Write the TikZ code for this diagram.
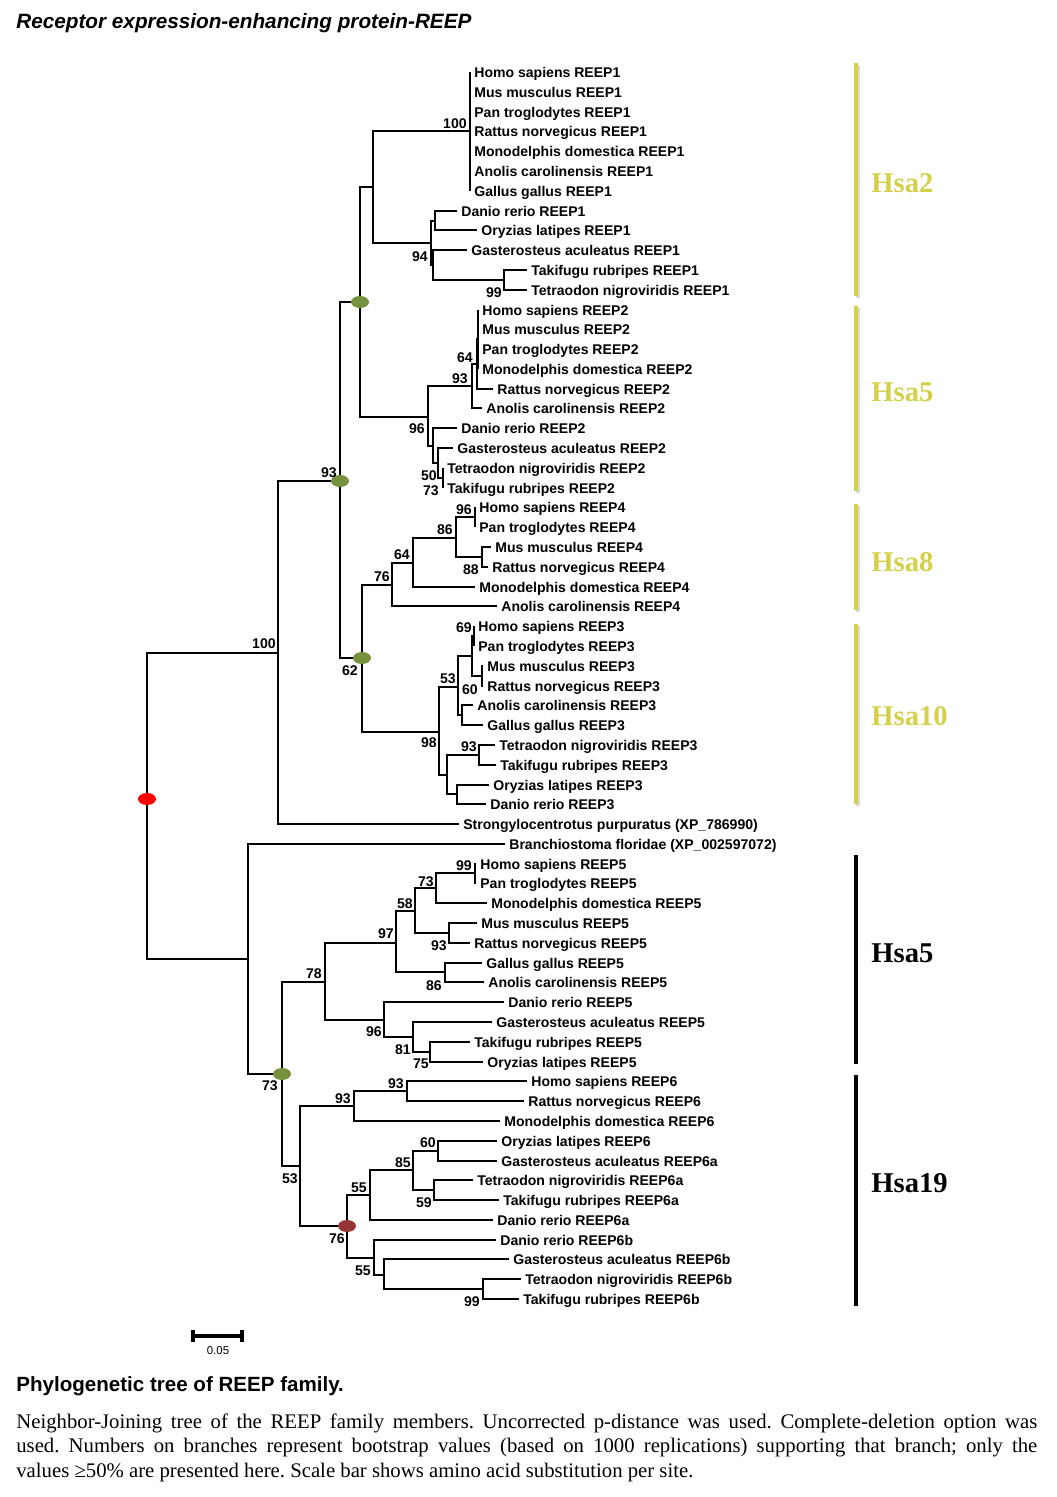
\documentclass[tikz,border=0pt]{standalone}
\usepackage{fontspec}
\setmainfont{Liberation Serif}
\newfontfamily\arialfont{Liberation Sans}
\usepackage{tikz}
\usetikzlibrary{shapes.geometric}
\frenchspacing

\definecolor{hsayellow}{RGB}{212,208,74}
\definecolor{nodegreen}{RGB}{118,146,60}
\definecolor{nodebrown}{RGB}{149,55,53}

\tikzset{
  branch/.style={line width=1.15pt},
  leaf/.style={anchor=west, inner xsep=0.8mm, inner ysep=0pt, text height=5.8pt, text depth=0pt,
    font=\arialfont\bfseries\fontsize{8}{9}\selectfont},
  boot/.style={anchor=east, inner sep=0pt, text height=5.8pt, text depth=0pt,
    font=\arialfont\bfseries\fontsize{8}{9}\selectfont},
  dupdot/.style={ellipse, fill=#1, inner sep=0pt, minimum width=3.6mm, minimum height=2.4mm},
  chrom/.style={anchor=west, inner sep=0pt, font=\bfseries\fontsize{16.3}{18}\selectfont},
  chrombar/.style={line width=2.3pt},
}

\begin{document}
\begin{tikzpicture}[x=0.2mm, y=-0.2mm]
\useasboundingbox (0,0) rectangle (1056,1497);

% Title
\node[anchor=base west, inner sep=0pt, font=\arialfont\bfseries\itshape\fontsize{11.8}{14}\selectfont]
  (title) at (16,28) {Receptor expression-enhancing protein-REEP};

% Leaves
\node[leaf] (hs1) at (470,72) {Homo sapiens REEP1};
\node[leaf] (mm1) at (470,92) {Mus musculus REEP1};
\node[leaf] (pt1) at (470,112) {Pan troglodytes REEP1};
\node[leaf] (rn1) at (470,131) {Rattus norvegicus REEP1};
\node[leaf] (md1) at (470,151) {Monodelphis domestica REEP1};
\node[leaf] (ac1) at (470,171) {Anolis carolinensis REEP1};
\node[leaf] (gg1) at (470,191) {Gallus gallus REEP1};
\node[leaf] (dr1) at (457,211) {Danio rerio REEP1};
\node[leaf] (ol1) at (477,230) {Oryzias latipes REEP1};
\node[leaf] (ga1) at (467,250) {Gasterosteus aculeatus REEP1};
\node[leaf] (tr1) at (527,270) {Takifugu rubripes REEP1};
\node[leaf] (tn1) at (527,290) {Tetraodon nigroviridis REEP1};
\node[leaf] (hs2) at (478,310) {Homo sapiens REEP2};
\node[leaf] (mm2) at (478,329) {Mus musculus REEP2};
\node[leaf] (pt2) at (478,349) {Pan troglodytes REEP2};
\node[leaf] (md2) at (478,369) {Monodelphis domestica REEP2};
\node[leaf] (rn2) at (493,389) {Rattus norvegicus REEP2};
\node[leaf] (ac2) at (482,408) {Anolis carolinensis REEP2};
\node[leaf] (dr2) at (457,428) {Danio rerio REEP2};
\node[leaf] (ga2) at (453,448) {Gasterosteus aculeatus REEP2};
\node[leaf] (tn2) at (443,468) {Tetraodon nigroviridis REEP2};
\node[leaf] (tr2) at (443,488) {Takifugu rubripes REEP2};
\node[leaf] (hs4) at (475,507) {Homo sapiens REEP4};
\node[leaf] (pt4) at (475,527) {Pan troglodytes REEP4};
\node[leaf] (mm4) at (491,547) {Mus musculus REEP4};
\node[leaf] (rn4) at (488,567) {Rattus norvegicus REEP4};
\node[leaf] (md4) at (475,587) {Monodelphis domestica REEP4};
\node[leaf] (ac4) at (497,606) {Anolis carolinensis REEP4};
\node[leaf] (hs3) at (474,626) {Homo sapiens REEP3};
\node[leaf] (pt3) at (474,646) {Pan troglodytes REEP3};
\node[leaf] (mm3) at (483,666) {Mus musculus REEP3};
\node[leaf] (rn3) at (483,686) {Rattus norvegicus REEP3};
\node[leaf] (ac3) at (473,705) {Anolis carolinensis REEP3};
\node[leaf] (gg3) at (483,725) {Gallus gallus REEP3};
\node[leaf] (tn3) at (495,745) {Tetraodon nigroviridis REEP3};
\node[leaf] (tr3) at (496,765) {Takifugu rubripes REEP3};
\node[leaf] (ol3) at (489,785) {Oryzias latipes REEP3};
\node[leaf] (dr3) at (486,804) {Danio rerio REEP3};
\node[leaf] (spu) at (459,824) {Strongylocentrotus purpuratus (XP\_786990)};
\node[leaf] (bfl) at (505,844) {Branchiostoma floridae (XP\_002597072)};
\node[leaf] (hs5) at (476,864) {Homo sapiens REEP5};
\node[leaf] (pt5) at (476,883) {Pan troglodytes REEP5};
\node[leaf] (md5) at (487,903) {Monodelphis domestica REEP5};
\node[leaf] (mm5) at (477,923) {Mus musculus REEP5};
\node[leaf] (rn5) at (470,943) {Rattus norvegicus REEP5};
\node[leaf] (gg5) at (482,963) {Gallus gallus REEP5};
\node[leaf] (ac5) at (484,982) {Anolis carolinensis REEP5};
\node[leaf] (dr5) at (504,1002) {Danio rerio REEP5};
\node[leaf] (ga5) at (492,1022) {Gasterosteus aculeatus REEP5};
\node[leaf] (tr5) at (470,1042) {Takifugu rubripes REEP5};
\node[leaf] (ol5) at (483,1062) {Oryzias latipes REEP5};
\node[leaf] (hs6) at (527,1081) {Homo sapiens REEP6};
\node[leaf] (rn6) at (524,1101) {Rattus norvegicus REEP6};
\node[leaf] (md6) at (500,1121) {Monodelphis domestica REEP6};
\node[leaf] (ol6) at (497,1141) {Oryzias latipes REEP6};
\node[leaf] (ga6a) at (497,1161) {Gasterosteus aculeatus REEP6a};
\node[leaf] (tn6a) at (473,1180) {Tetraodon nigroviridis REEP6a};
\node[leaf] (tr6a) at (499,1200) {Takifugu rubripes REEP6a};
\node[leaf] (dr6a) at (493,1220) {Danio rerio REEP6a};
\node[leaf] (dr6b) at (496,1240) {Danio rerio REEP6b};
\node[leaf] (ga6b) at (509,1259) {Gasterosteus aculeatus REEP6b};
\node[leaf] (tn6b) at (521,1279) {Tetraodon nigroviridis REEP6b};
\node[leaf] (tr6b) at (519,1299) {Takifugu rubripes REEP6b};

% Internal nodes
\coordinate (root) at (147,799);
\coordinate (c100) at (278,653);
\coordinate (g2) at (340,481);
\coordinate (g1) at (360,302);
\coordinate (p1) at (373,187);
\coordinate (poly1) at (470,131);
\coordinate (f1) at (431,243);
\coordinate (do1) at (435,221);
\coordinate (gt1) at (433,265);
\coordinate (tt1) at (504,280);
\coordinate (n96b) at (428,417);
\coordinate (n93b) at (472,386);
\coordinate (n64b) at (477,364);
\coordinate (poly2) at (478,339);
\coordinate (fs2) at (433,446);
\coordinate (n50) at (438,463);
\coordinate (n73b) at (443,478);
\coordinate (g3) at (362,658);
\coordinate (n76d) at (392,585);
\coordinate (n64d) at (413,563);
\coordinate (n86d) at (456,538);
\coordinate (n96d) at (475,517);
\coordinate (n88d) at (482,557);
\coordinate (n98c) at (439,732);
\coordinate (n53c) at (458,687);
\coordinate (mx3) at (472,656);
\coordinate (n69c) at (474,636);
\coordinate (n60c) at (482,676);
\coordinate (ag3) at (462,715);
\coordinate (fs3) at (447,775);
\coordinate (n93c) at (479,755);
\coordinate (od3) at (457,794);
\coordinate (nl) at (248,959);
\coordinate (g4) at (282,1074);
\coordinate (n78) at (325,982);
\coordinate (n97) at (396,943);
\coordinate (n58) at (415,911);
\coordinate (n73e) at (436,888);
\coordinate (n99e) at (475,873);
\coordinate (n93e) at (449,933);
\coordinate (n86e) at (445,972);
\coordinate (n96e) at (384,1020);
\coordinate (n81) at (413,1037);
\coordinate (n75) at (430,1052);
\coordinate (n53f) at (300,1166);
\coordinate (n93f) at (354,1106);
\coordinate (n93g) at (407,1091);
\coordinate (n76f) at (347,1226);
\coordinate (n55a) at (370,1195);
\coordinate (n85) at (413,1170);
\coordinate (n60f) at (438,1151);
\coordinate (n59f) at (434,1190);
\coordinate (n55b) at (374,1258);
\coordinate (ng6) at (384,1275);
\coordinate (n99f) at (483,1289);

% Branches, upper part
\draw[branch] (root) |- (c100) (root) |- (nl);
\draw[branch] (c100) |- (g2) (c100) |- (spu.west);
\draw[branch] (g2) |- (g1) (g2) |- (g3);
\draw[branch] (g1) |- (p1) (g1) |- (n96b);
\draw[branch] (p1) |- (poly1) (p1) |- (f1);
\draw[branch] (poly1) |- (hs1.west) (poly1) |- (mm1.west) (poly1) |- (pt1.west)
  (poly1) |- (rn1.west) (poly1) |- (md1.west) (poly1) |- (ac1.west) (poly1) |- (gg1.west);
\draw[branch] (f1) |- (do1) (f1) |- (gt1);
\draw[branch] (do1) |- (dr1.west) (do1) |- (ol1.west);
\draw[branch] (gt1) |- (ga1.west) (gt1) |- (tt1);
\draw[branch] (tt1) |- (tr1.west) (tt1) |- (tn1.west);
\draw[branch] (n96b) |- (n93b) (n96b) |- (fs2);
\draw[branch] (n93b) |- (n64b) (n93b) |- (ac2.west);
\draw[branch] (n64b) |- (poly2) (n64b) |- (rn2.west);
\draw[branch] (poly2) |- (hs2.west) (poly2) |- (mm2.west) (poly2) |- (pt2.west) (poly2) |- (md2.west);
\draw[branch] (fs2) |- (dr2.west) (fs2) |- (n50);
\draw[branch] (n50) |- (ga2.west) (n50) |- (n73b);
\draw[branch] (n73b) |- (tn2.west) (n73b) |- (tr2.west);
\draw[branch] (g3) |- (n76d) (g3) |- (n98c);
\draw[branch] (n76d) |- (n64d) (n76d) |- (ac4.west);
\draw[branch] (n64d) |- (n86d) (n64d) |- (md4.west);
\draw[branch] (n86d) |- (n96d) (n86d) |- (n88d);
\draw[branch] (n96d) |- (hs4.west) (n96d) |- (pt4.west);
\draw[branch] (n88d) |- (mm4.west) (n88d) |- (rn4.west);
\draw[branch] (n98c) |- (n53c) (n98c) |- (fs3);
\draw[branch] (n53c) |- (mx3) (n53c) |- (ag3);
\draw[branch] (mx3) |- (n69c) (mx3) |- (n60c);
\draw[branch] (n69c) |- (hs3.west) (n69c) |- (pt3.west);
\draw[branch] (n60c) |- (mm3.west) (n60c) |- (rn3.west);
\draw[branch] (ag3) |- (ac3.west) (ag3) |- (gg3.west);
\draw[branch] (fs3) |- (n93c) (fs3) |- (od3);
\draw[branch] (n93c) |- (tn3.west) (n93c) |- (tr3.west);
\draw[branch] (od3) |- (ol3.west) (od3) |- (dr3.west);

% Branches, lower part
\draw[branch] (nl) |- (bfl.west) (nl) |- (g4);
\draw[branch] (g4) |- (n78) (g4) |- (n53f);
\draw[branch] (n78) |- (n97) (n78) |- (n96e);
\draw[branch] (n97) |- (n58) (n97) |- (n86e);
\draw[branch] (n58) |- (n73e) (n58) |- (n93e);
\draw[branch] (n73e) |- (n99e) (n73e) |- (md5.west);
\draw[branch] (n99e) |- (hs5.west) (n99e) |- (pt5.west);
\draw[branch] (n93e) |- (mm5.west) (n93e) |- (rn5.west);
\draw[branch] (n86e) |- (gg5.west) (n86e) |- (ac5.west);
\draw[branch] (n96e) |- (dr5.west) (n96e) |- (n81);
\draw[branch] (n81) |- (ga5.west) (n81) |- (n75);
\draw[branch] (n75) |- (tr5.west) (n75) |- (ol5.west);
\draw[branch] (n53f) |- (n93f) (n53f) |- (n76f);
\draw[branch] (n93f) |- (n93g) (n93f) |- (md6.west);
\draw[branch] (n93g) |- (hs6.west) (n93g) |- (rn6.west);
\draw[branch] (n76f) |- (n55a) (n76f) |- (n55b);
\draw[branch] (n55a) |- (n85) (n55a) |- (dr6a.west);
\draw[branch] (n85) |- (n60f) (n85) |- (n59f);
\draw[branch] (n60f) |- (ol6.west) (n60f) |- (ga6a.west);
\draw[branch] (n59f) |- (tn6a.west) (n59f) |- (tr6a.west);
\draw[branch] (n55b) |- (dr6b.west) (n55b) |- (ng6);
\draw[branch] (ng6) |- (ga6b.west) (ng6) |- (n99f);
\draw[branch] (n99f) |- (tn6b.west) (n99f) |- (tr6b.west);

% Duplication dots
\node[dupdot=red] (rootdot) at (root) {};
\node[dupdot=nodegreen] (g1dot) at (g1) {};
\node[dupdot=nodegreen] (g2dot) at (g2) {};
\node[dupdot=nodegreen] (g3dot) at (g3) {};
\node[dupdot=nodegreen] (g4dot) at (g4) {};
\node[dupdot=nodebrown] (n76fdot) at (n76f) {};

% Bootstrap values
\node[boot] (bpoly1) at (467,123) {100};
\node[boot] (bf1) at (428,256) {94};
\node[boot] (btt1) at (502,292) {99};
\node[boot] (bn64b) at (473,357) {64};
\node[boot] (bn93b) at (468,378) {93};
\node[boot] (bn96b) at (425,428) {96};
\node[boot] (bn50) at (437,475) {50};
\node[boot] (bn73b) at (439,490) {73};
\node[boot] (bg2) at (337,472) {93};
\node[boot] (bc100) at (276,643) {100};
\node[boot] (bg3) at (358,670) {62};
\node[boot] (bn76d) at (390,576) {76};
\node[boot] (bn64d) at (410,554) {64};
\node[boot] (bn86d) at (453,529) {86};
\node[boot] (bn96d) at (472,509) {96};
\node[boot] (bn88d) at (479,569) {88};
\node[boot] (bn69c) at (472,627) {69};
\node[boot] (bn53c) at (456,678) {53};
\node[boot] (bn60c) at (478,689) {60};
\node[boot] (bn98c) at (437,742) {98};
\node[boot] (bn93c) at (477,746) {93};
\node[boot] (bg4) at (278,1085) {73};
\node[boot] (bn78) at (322,973) {78};
\node[boot] (bn97) at (394,933) {97};
\node[boot] (bn58) at (413,903) {58};
\node[boot] (bn73e) at (434,881) {73};
\node[boot] (bn99e) at (472,865) {99};
\node[boot] (bn93e) at (447,945) {93};
\node[boot] (bn86e) at (442,985) {86};
\node[boot] (bn96e) at (382,1031) {96};
\node[boot] (bn81) at (411,1049) {81};
\node[boot] (bn75) at (429,1063) {75};
\node[boot] (bn93f) at (351,1098) {93};
\node[boot] (bn93g) at (404,1083) {93};
\node[boot] (bn53f) at (298,1178) {53};
\node[boot] (bn76f) at (345,1238) {76};
\node[boot] (bn55a) at (367,1187) {55};
\node[boot] (bn85) at (411,1162) {85};
\node[boot] (bn60f) at (436,1142) {60};
\node[boot] (bn59f) at (432,1202) {59};
\node[boot] (bn55b) at (371,1270) {55};
\node[boot] (bn99f) at (480,1301) {99};

% Chromosome bars
\draw[chrombar, gray!30] (858,65) -- (858,298);
\draw[chrombar, gray!30] (858,308) -- (858,493);
\draw[chrombar, gray!30] (858,506) -- (858,612);
\draw[chrombar, gray!30] (858,626) -- (858,806);
\draw[chrombar, hsayellow] (856,63) -- (856,296);
\draw[chrombar, hsayellow] (856,306) -- (856,491);
\draw[chrombar, hsayellow] (856,504) -- (856,610);
\draw[chrombar, hsayellow] (856,624) -- (856,804);
\draw[chrombar, black] (856,855) -- (856,1064);
\draw[chrombar, black] (856,1075) -- (856,1306);
\node[chrom, text=hsayellow] (hsa2) at (871,183) {Hsa2};
\node[chrom, text=hsayellow] (hsa5a) at (871,392) {Hsa5};
\node[chrom, text=hsayellow] (hsa8) at (871,562) {Hsa8};
\node[chrom, text=hsayellow] (hsa10) at (871,716) {Hsa10};
\node[chrom] (hsa5b) at (871,953) {Hsa5};
\node[chrom] (hsa19) at (871,1183) {Hsa19};

% Scale bar
\draw[line width=2pt] (193,1336) -- (242,1336);
\draw[line width=2pt] (193,1330) -- (193,1342) (242,1330) -- (242,1342);
\node[inner sep=0pt, font=\arialfont\fontsize{6.5}{7}\selectfont] (scale) at (218,1351) {0.05};

% Caption
\node[anchor=base west, inner sep=0pt, font=\arialfont\bfseries\fontsize{11.7}{14}\selectfont]
  (capt) at (16,1391) {Phylogenetic tree of REEP family.};
\node[anchor=base west, inner sep=0pt, text width=204.2mm, align=justify,
  font=\fontsize{11.8}{14.2}\selectfont] (capbody) at (16,1428)
  {Neighbor-Joining tree of the REEP family members. Uncorrected p-distance was used. Complete-deletion option was\linebreak
   used. Numbers on branches represent bootstrap values (based on 1000 replications) supporting that branch; only the\linebreak
   values ≥50\% are presented here. Scale bar shows amino acid substitution per site.};
\end{tikzpicture}
\end{document}
